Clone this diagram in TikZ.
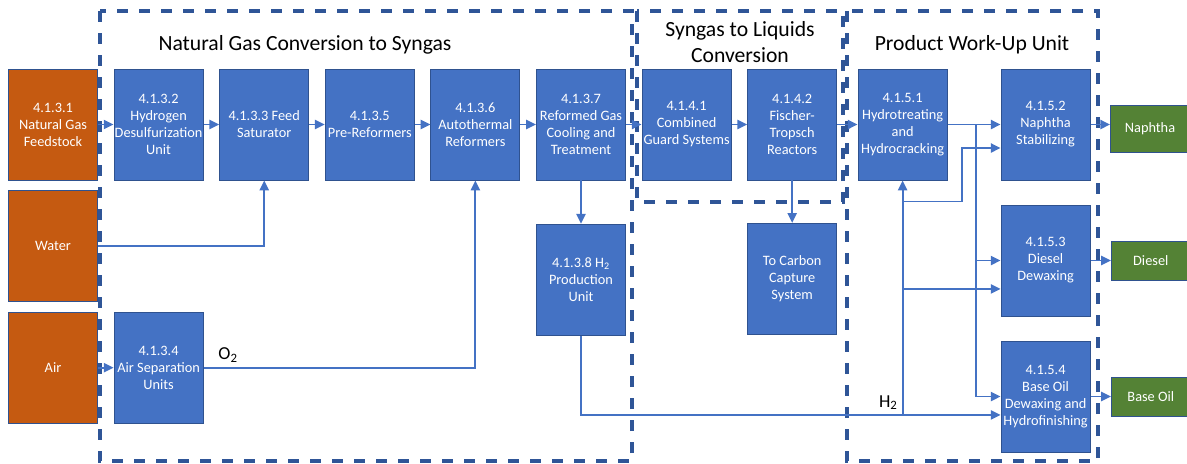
\documentclass[tikz,border=0pt]{standalone}
\usepackage{fontspec}
\setmainfont{Carlito}
\usetikzlibrary{arrows.meta}
\definecolor{unitblue}{HTML}{4472C4}
\definecolor{edgeblue}{HTML}{2F528F}
\definecolor{feedorange}{HTML}{C55A11}
\definecolor{prodgreen}{HTML}{548235}
\definecolor{lineblue}{HTML}{4472C4}
\definecolor{frameblue}{HTML}{2F5597}
\tikzstyle{unit} = [rectangle, minimum width=2.225cm, minimum height=2.775cm, inner xsep=0pt, text centered, align=center, draw=edgeblue, line width=0.7pt, fill=unitblue, text=white, font=\fontsize{10.2}{12.1}\selectfont]
\tikzstyle{feed} = [unit, fill=feedorange]
\tikzstyle{product} = [unit, fill=prodgreen, minimum width=1.97cm, minimum height=0.975cm]
\tikzstyle{arrow} = [line width=1.4pt, draw=lineblue, ->, >={Triangle[length=7pt,width=6.5pt]}]
\tikzstyle{region} = [line width=2.4pt, draw=frameblue, dash pattern=on 0.28cm off 0.27cm]
\tikzstyle{title} = [align=center, font=\fontsize{15.4}{18.4}\selectfont]
\tikzstyle{lbl} = [font=\fontsize{13}{15}\selectfont]
\begin{document}
\begin{tikzpicture}[node distance=2.64cm]
                \useasboundingbox (0,0) rectangle (29.675,-11.575);
                % dashed section frames
                \draw [region] (2.5,-0.275) rectangle (15.8,-11.525);
                \draw [region] (15.925,-0.275) rectangle (21.075,-5.05);
                \draw [region] (21.175,-0.275) rectangle (27.45,-11.525);
                \node (ngtitle) [title] at (7.625,-1.125) {Natural Gas Conversion to Syngas};
                \node (gtltitle) [title] at (18.5,-1.05) {Syngas to Liquids\\Conversion};
                \node (pwtitle) [title] at (24.3,-1.125) {Product Work-Up Unit};

                \node (ng) [feed] at (1.325,-3.1125) {4.1.3.1\\Natural Gas\\Feedstock};
                \node (hds) [unit, right of=ng] {4.1.3.2\\Hydrogen\\Desulfurization\\Unit};
                \node (fs) [unit, right of=hds] {4.1.3.3 Feed\\Saturator};
                \node (pre) [unit, right of=fs] {4.1.3.5\\Pre-Reformers};
                \node (atr) [unit, right of=pre] {4.1.3.6\\Autothermal\\Reformers};
                \node (cool) [unit, right of=atr] {4.1.3.7\\Reformed Gas\\Cooling and\\Treatment};
                \node (guard) [unit, right of=cool] {4.1.4.1\\Combined\\Guard Systems};
                \node (ft) [unit, right of=guard] {4.1.4.2\\Fischer-\\Tropsch\\Reactors};
                \node (hc) [unit, right of=ft, xshift=0.12cm] {4.1.5.1\\Hydrotreating\\and\\Hydrocracking};
                \node (nst) [unit, right of=hc, xshift=0.935cm] {4.1.5.2\\Naphtha\\Stabilizing};
                \node (naphtha) [product, right of=nst, xshift=-0.03cm, yshift=-0.1cm, minimum height=1.175cm] {Naphtha};
                \node (water) [feed, below of=ng, yshift=-0.4cm] {Water};
                \node (air) [feed, below of=water, yshift=-0.4cm] {Air};
                \node (asu) [unit, right of=air] {4.1.3.4\\Air Separation\\Units};
                \node (h2u) [unit, below of=cool, yshift=-1.24cm] {4.1.3.8 H\textsubscript{2}\\Production\\Unit};
                \node (cc) [unit, below of=ft, yshift=-1.22cm] {To Carbon\\Capture\\System};
                \node (dd) [unit, below of=nst, yshift=-0.76cm] {4.1.5.3\\Diesel\\Dewaxing};
                \node (bo) [unit, below of=dd, yshift=-0.76cm] {4.1.5.4\\Base Oil\\Dewaxing and\\Hydrofinishing};
                \node (diesel) [product, right of=dd, xshift=-0.01cm] {Diesel};
                \node (baseoil) [product, right of=bo, xshift=-0.01cm] {Base Oil};

                \coordinate (h2in) at ([yshift=-0.46cm]bo.west);
                \coordinate (h2j) at (hc.south |- h2in);
                \coordinate (b1) at ([yshift=-0.525cm]hc.south);
                \coordinate (dx) at ([xshift=0.35cm]hc.east);
                \coordinate (n2in) at ([yshift=-0.5875cm]nst.west);
                \coordinate (d2in) at ([yshift=-0.71cm]dd.west);
                \coordinate (ox) at ([xshift=0.7cm]hc.east);

                \draw [arrow] (ng) -- (hds);
                \draw [arrow] (hds) -- (fs);
                \draw [arrow] (fs) -- (pre);
                \draw [arrow] (pre) -- (atr);
                \draw [arrow] (atr) -- (cool);
                \draw [arrow] (cool) -- (guard);
                \draw [arrow] (guard) -- (ft);
                \draw [arrow] (ft) -- (hc);
                \draw [arrow] (water.east) -| (fs.south);
                \draw [arrow] (air) -- (asu);
                \draw [arrow] (asu.east) -| node (o2lbl) [lbl, pos=0.045, above] {O\textsubscript{2}} (atr.south);
                \draw [arrow] (cool) -- (h2u);
                \draw [arrow] (ft) -- (cc);
                \draw [arrow] (h2u.south) |- (h2in);
                \draw [arrow] (h2j) -- (hc.south);
                \node (h2lbl) [lbl, above left] at (h2j) {H\textsubscript{2}};
                \draw [arrow] (b1) -| (dx |- n2in) -- (n2in);
                \draw [arrow] (hc.south |- d2in) -- (d2in);
                \draw [arrow] (hc.east) -- (nst.west);
                \draw [arrow] (ox) |- (dd.west);
                \draw [arrow] (ox) |- (bo.west);
                \draw [arrow] (nst.east) -- (nst.east -| naphtha.west);
                \draw [arrow] (dd.east) -- (dd.east -| diesel.west);
                \draw [arrow] (bo) -- (baseoil);
            \end{tikzpicture}
\end{document}
